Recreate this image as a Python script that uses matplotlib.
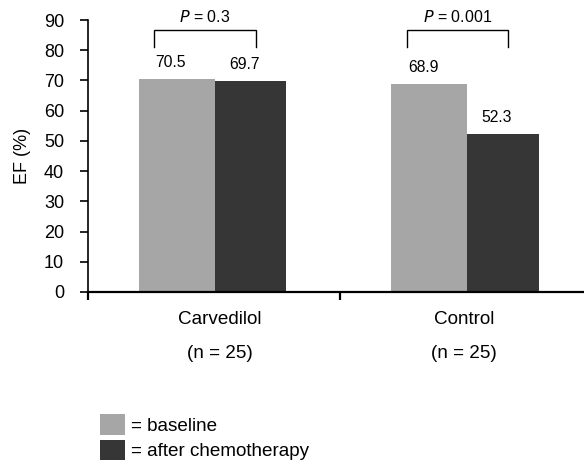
import numpy as np
import matplotlib
matplotlib.use("Agg")
import matplotlib.pyplot as plt

plt.rcParams["font.family"] = ["Liberation Sans", "DejaVu Sans"]

# ── data ────────────────────────────────────────────────
groups = ["Carvedilol", "Control"]
group_n = ["(n = 25)", "(n = 25)"]
baseline = [70.5, 68.9]
after_chemo = [69.7, 52.3]
p_values = ["0.3", "0.001"]
series_labels = ["= baseline", "= after chemotherapy"]

gray = "#a6a6a6"
dark = "#363636"

# ── figure ──────────────────────────────────────────────
fig = plt.figure(figsize=(5.84, 4.62), dpi=100)
ax = fig.add_axes([0.1502, 0.368, 0.864, 0.5887])

x = np.arange(len(groups))
b1 = ax.bar(x + 0.203, baseline, width=0.302, align="edge", color=gray, label=series_labels[0])
b2 = ax.bar(x + 0.505, after_chemo, width=0.282, align="edge", color=dark, label=series_labels[1])

# value labels
for bars in (b1, b2):
    for rect in bars:
        h = rect.get_height()
        ax.annotate(f"{h:.1f}", (rect.get_x() + rect.get_width() / 2 - 0.025, h),
                    xytext=(0, 12), textcoords="offset points",
                    ha="center", va="center", fontsize=11.3)

# significance brackets
for i, p in enumerate(p_values):
    xl, xr = i + 0.264, i + 0.667
    ax.plot([xl, xl, xr, xr], [81.2, 86.7, 86.7, 81.2], color="black", lw=1.0,
            clip_on=False, solid_joinstyle="miter")
    ax.text((xl + xr) / 2, 91.1, f"$\\mathit{{P}}$ = {p}", ha="center", va="center",
            fontsize=11.5, clip_on=False)

ax.set_xlim(0, 2)
ax.set_ylim(0, 90)
ax.set_yticks(np.arange(0, 91, 10))
ax.set_xticks([0, 1, 2])
ax.set_xticklabels([])
ax.tick_params(axis="y", direction="out", length=6, width=1.2, labelsize=13, pad=11)
ax.tick_params(axis="x", direction="out", length=6, width=1.6)
ax.set_ylabel("EF (%)", fontsize=13)
ax.yaxis.set_label_coords(-0.112, 0.5)

for s in ("top", "right"):
    ax.spines[s].set_visible(False)
ax.spines["left"].set_linewidth(1.2)
ax.spines["bottom"].set_linewidth(1.6)

# group labels below the axis
for i, (g, n) in enumerate(zip(groups, group_n)):
    off = 0.024 if i == 0 else -0.008
    ax.text(i + 0.5 + off, -9.0, g, ha="center", va="center", fontsize=13.6, clip_on=False)
    ax.text(i + 0.5 + off, -20.5, n, ha="center", va="center", fontsize=13.6, clip_on=False)

# legend
fig.legend(handles=[b1, b2], labels=series_labels, loc="upper left",
           bbox_to_anchor=(100 / 584, 1 - 414 / 462), bbox_transform=fig.transFigure,
           frameon=False, fontsize=13.6, handlelength=1.33, handleheight=1.3,
           handletextpad=0.3, labelspacing=0.27, borderpad=0, borderaxespad=0)

fig.savefig("out.png", dpi=100)
